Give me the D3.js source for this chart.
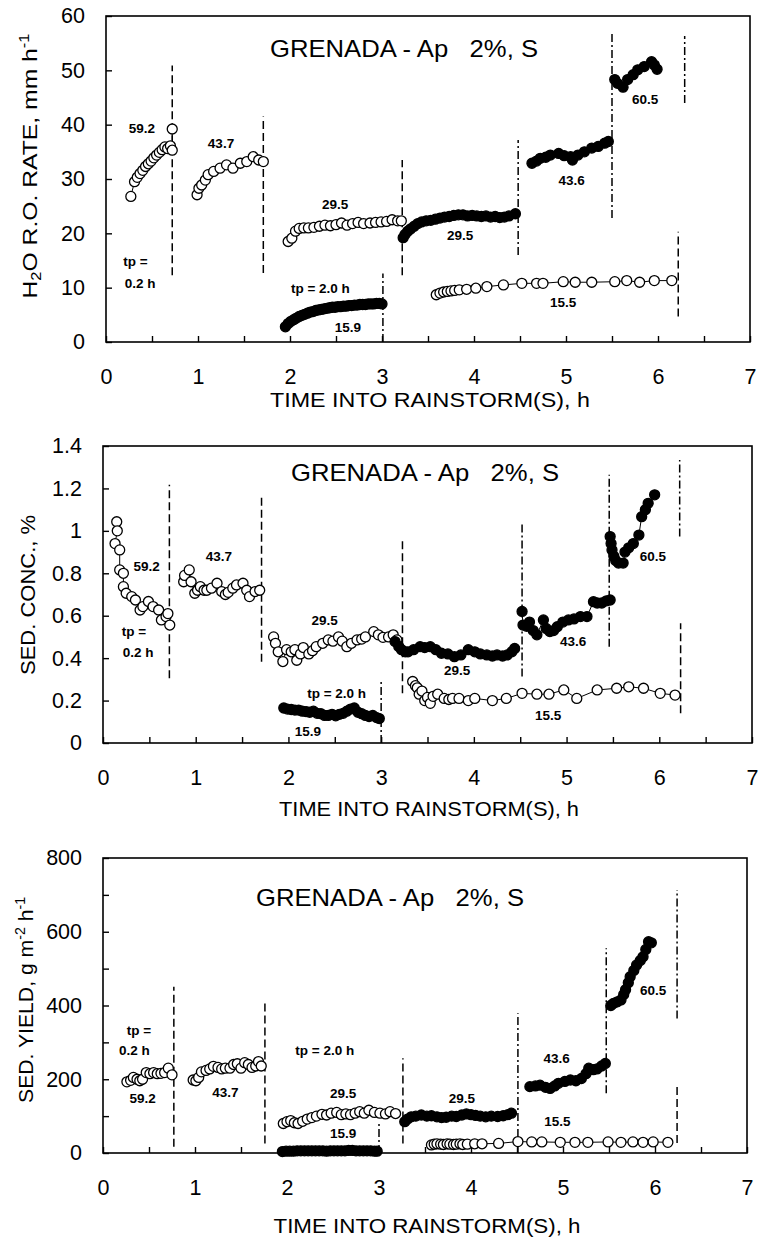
<!DOCTYPE html>
<html>
<head>
<meta charset="utf-8">
<script src="https://cdn.jsdelivr.net/npm/d3@7"></script>
<style>
  body { margin: 0; background: #fff; }
  svg { font-family: "Liberation Sans", Arial, sans-serif; }
</style>
</head>
<body>
<svg id="chart" width="759" height="1238"></svg>
<script>
// ---- axis ticks ----
const timeTicks = [0, 0.5, 1, 1.5, 2, 2.5, 3, 3.5, 4, 4.5, 5, 5.5, 6, 6.5, 7];
const rateTicks = [0, 10, 20, 30, 40, 50, 60];
const concTicks = [0, 0.2, 0.4, 0.6, 0.8, 1, 1.2, 1.4];
const yieldTicks = [0, 100, 200, 300, 400, 500, 600, 700, 800];

// ---- runoff rate (mm/h), [time h, value] ----
const rateA592 = [[0.27,26.8],[0.31,29.5],[0.34,30.3],[0.37,31.0],[0.40,31.6],[0.43,32.3],[0.46,32.8],[0.49,33.3],[0.52,33.9],[0.55,34.4],[0.58,34.9],[0.61,35.4],[0.64,35.9],[0.67,35.6],[0.70,36.1],[0.72,35.3],[0.72,39.2]];
const rateA437 = [[0.99,27.1],[1.01,28.3],[1.04,28.9],[1.08,29.8],[1.11,30.8],[1.17,31.4],[1.24,32.0],[1.31,32.6],[1.38,32.0],[1.46,32.9],[1.53,33.2],[1.60,34.1],[1.66,33.5],[1.71,33.2]];
const rateA295 = [[1.98,18.5],[2.02,19.1],[2.06,20.4],[2.10,20.9],[2.15,21.0],[2.20,21.0],[2.26,21.1],[2.32,21.3],[2.38,21.5],[2.44,21.4],[2.50,21.6],[2.56,21.9],[2.62,21.5],[2.68,21.8],[2.74,22.0],[2.80,21.8],[2.87,21.9],[2.93,22.0],[2.99,22.1],[3.05,22.2],[3.11,22.5],[3.17,22.3],[3.21,22.3]];
const rateA155 = [[3.59,8.7],[3.63,9.0],[3.67,9.2],[3.71,9.3],[3.75,9.4],[3.79,9.5],[3.84,9.6],[3.92,9.7],[4.02,9.9],[4.14,10.2],[4.32,10.5],[4.52,10.8],[4.68,10.8],[4.75,10.8],[4.97,11.1],[5.10,11.0],[5.28,11.0],[5.53,11.1],[5.66,11.3],[5.80,11.0],[5.96,11.3],[6.15,11.3]];
const rateB159 = [[1.95,2.8],[1.98,3.4],[2.01,3.8],[2.04,4.1],[2.07,4.4],[2.10,4.7],[2.13,4.9],[2.16,5.1],[2.19,5.3],[2.22,5.5],[2.25,5.6],[2.28,5.8],[2.31,5.9],[2.34,6.0],[2.37,6.1],[2.40,6.2],[2.43,6.3],[2.46,6.4],[2.49,6.4],[2.52,6.5],[2.55,6.5],[2.58,6.6],[2.61,6.6],[2.64,6.7],[2.67,6.7],[2.70,6.8],[2.73,6.8],[2.76,6.9],[2.79,6.9],[2.82,6.9],[2.85,7.0],[2.88,7.0],[2.91,7.0],[2.94,7.1],[2.97,7.1],[3.00,7.0]];
const rateB295 = [[3.23,19.2],[3.25,19.8],[3.28,20.4],[3.31,20.8],[3.35,21.3],[3.39,21.8],[3.43,22.1],[3.48,22.3],[3.53,22.4],[3.58,22.6],[3.63,22.8],[3.68,23.0],[3.73,23.1],[3.78,23.3],[3.83,23.4],[3.88,23.4],[3.93,23.2],[3.98,23.3],[4.03,23.2],[4.08,23.1],[4.13,23.2],[4.18,23.0],[4.23,23.1],[4.28,22.9],[4.33,23.0],[4.38,23.2],[4.45,23.6]];
const rateB436 = [[4.63,32.9],[4.68,33.3],[4.72,33.8],[4.78,34.0],[4.83,34.4],[4.92,34.7],[4.98,34.3],[5.05,34.1],[5.07,33.5],[5.13,34.4],[5.20,35.0],[5.28,35.7],[5.35,36.0],[5.42,36.6],[5.46,36.9]];
const rateB605 = [[5.53,48.3],[5.56,47.6],[5.62,46.9],[5.67,48.3],[5.73,49.2],[5.78,50.1],[5.85,50.7],[5.93,51.6],[5.96,51.0],[5.99,50.2]];

// ---- sediment concentration (%) ----
const concA592 = [[0.148,1.043],[0.154,1.0],[0.13,0.94],[0.18,0.91],[0.18,0.816],[0.22,0.80],[0.22,0.737],[0.25,0.706],[0.31,0.69],[0.35,0.674],[0.40,0.627],[0.43,0.643],[0.49,0.667],[0.54,0.643],[0.60,0.627],[0.63,0.58],[0.68,0.596],[0.70,0.61],[0.72,0.556]];
const concA437 = [[0.87,0.76],[0.88,0.79],[0.93,0.816],[0.95,0.76],[0.99,0.706],[1.02,0.72],[1.05,0.737],[1.09,0.72],[1.12,0.72],[1.17,0.73],[1.23,0.753],[1.28,0.714],[1.32,0.70],[1.35,0.71],[1.40,0.73],[1.44,0.745],[1.51,0.753],[1.55,0.72],[1.58,0.69],[1.64,0.714],[1.69,0.72]];
const concA295 = [[1.84,0.50],[1.86,0.47],[1.89,0.43],[1.94,0.384],[1.98,0.44],[2.03,0.43],[2.07,0.44],[2.09,0.39],[2.13,0.42],[2.16,0.45],[2.22,0.42],[2.26,0.435],[2.30,0.454],[2.37,0.47],[2.43,0.486],[2.48,0.48],[2.54,0.50],[2.58,0.48],[2.63,0.454],[2.68,0.47],[2.74,0.486],[2.79,0.49],[2.83,0.50],[2.92,0.525],[2.97,0.51],[3.02,0.498],[3.08,0.50],[3.13,0.51],[3.17,0.486]];
const concA155 = [[3.34,0.29],[3.37,0.27],[3.39,0.26],[3.41,0.23],[3.44,0.245],[3.47,0.20],[3.50,0.215],[3.53,0.187],[3.56,0.22],[3.61,0.23],[3.68,0.21],[3.73,0.205],[3.77,0.21],[3.84,0.21],[3.94,0.20],[4.01,0.21],[4.20,0.20],[4.35,0.21],[4.52,0.234],[4.68,0.23],[4.81,0.23],[4.97,0.25],[5.11,0.21],[5.33,0.25],[5.54,0.258],[5.67,0.265],[5.83,0.258],[6.01,0.234],[6.17,0.226]];
const concB159 = [[1.95,0.165],[1.99,0.160],[2.03,0.158],[2.07,0.155],[2.11,0.155],[2.15,0.150],[2.19,0.148],[2.23,0.145],[2.27,0.150],[2.31,0.140],[2.35,0.138],[2.39,0.130],[2.43,0.130],[2.47,0.135],[2.51,0.128],[2.55,0.135],[2.59,0.140],[2.63,0.150],[2.67,0.160],[2.71,0.165],[2.75,0.145],[2.79,0.138],[2.83,0.130],[2.87,0.125],[2.91,0.130],[2.95,0.120],[2.98,0.115]];
const concB295 = [[3.15,0.478],[3.19,0.455],[3.22,0.44],[3.26,0.43],[3.29,0.43],[3.35,0.44],[3.42,0.454],[3.47,0.45],[3.53,0.454],[3.59,0.44],[3.65,0.423],[3.72,0.42],[3.79,0.407],[3.86,0.415],[3.94,0.44],[4.01,0.43],[4.07,0.42],[4.14,0.415],[4.20,0.41],[4.25,0.415],[4.31,0.41],[4.36,0.415],[4.41,0.43],[4.44,0.446]];
const concB436 = [[4.52,0.62],[4.53,0.556],[4.57,0.55],[4.60,0.57],[4.64,0.53],[4.68,0.51],[4.75,0.58],[4.78,0.54],[4.82,0.525],[4.86,0.53],[4.90,0.548],[4.96,0.57],[5.02,0.58],[5.08,0.585],[5.15,0.596],[5.22,0.596],[5.29,0.666],[5.33,0.66],[5.38,0.66],[5.43,0.67],[5.47,0.674]];
const concB605 = [[5.47,0.973],[5.48,0.94],[5.49,0.91],[5.51,0.88],[5.53,0.86],[5.56,0.848],[5.61,0.848],[5.63,0.90],[5.67,0.92],[5.72,0.94],[5.78,0.98],[5.81,1.067],[5.85,1.10],[5.88,1.13],[5.95,1.17]];

// ---- sediment yield (g m-2 h-1) ----
const yieldA592 = [[0.26,193],[0.30,197],[0.33,205],[0.37,200],[0.40,196],[0.43,200],[0.47,218],[0.51,215],[0.55,218],[0.59,215],[0.63,216],[0.67,218],[0.71,230],[0.75,212]];
const yieldA437 = [[0.98,198],[1.01,196],[1.04,205],[1.07,220],[1.12,224],[1.16,228],[1.20,235],[1.25,232],[1.29,228],[1.33,230],[1.38,230],[1.42,240],[1.46,242],[1.50,230],[1.54,245],[1.58,240],[1.62,232],[1.66,236],[1.69,248],[1.72,236]];
const yieldA295 = [[1.96,80],[2.00,85],[2.04,88],[2.08,82],[2.12,80],[2.17,86],[2.22,92],[2.27,96],[2.32,100],[2.38,105],[2.43,103],[2.48,108],[2.54,110],[2.59,104],[2.64,106],[2.69,104],[2.74,108],[2.79,112],[2.84,108],[2.89,116],[2.95,110],[3.01,108],[3.07,106],[3.12,112],[3.18,107]];
const yieldA155 = [[3.57,22],[3.60,24],[3.63,25],[3.67,24],[3.70,23],[3.74,25],[3.77,24],[3.81,23],[3.84,24],[3.88,25],[3.91,23],[3.96,24],[4.04,25],[4.12,25],[4.30,26],[4.51,31],[4.66,30],[4.77,30],[4.97,29],[5.13,29],[5.27,29],[5.49,30],[5.63,29],[5.76,30],[5.87,29],[5.98,30],[6.14,29]];
const yieldB159 = [[1.95,4],[1.99,5],[2.03,5],[2.07,5],[2.11,6],[2.15,6],[2.19,6],[2.23,6],[2.27,6],[2.31,6],[2.35,6],[2.39,6],[2.43,5],[2.47,6],[2.51,6],[2.55,6],[2.59,6],[2.63,6],[2.67,7],[2.71,7],[2.75,6],[2.79,6],[2.83,6],[2.87,6],[2.91,6],[2.95,5],[2.98,5]];
const yieldB295 = [[3.28,85],[3.31,92],[3.35,98],[3.40,100],[3.46,103],[3.52,100],[3.57,101],[3.63,98],[3.68,96],[3.73,97],[3.79,100],[3.84,99],[3.90,103],[3.95,106],[4.00,104],[4.05,102],[4.10,100],[4.16,98],[4.22,100],[4.29,99],[4.35,101],[4.40,104],[4.44,108]];
const yieldB436 = [[4.64,180],[4.70,182],[4.75,184],[4.81,178],[4.86,175],[4.91,182],[4.95,189],[5.02,194],[5.08,198],[5.14,196],[5.20,202],[5.25,215],[5.28,230],[5.33,226],[5.37,228],[5.42,236],[5.46,243]];
const yieldB605 = [[5.52,400],[5.55,406],[5.59,410],[5.63,415],[5.66,430],[5.68,443],[5.71,462],[5.73,478],[5.77,495],[5.80,510],[5.84,522],[5.87,532],[5.90,552],[5.93,573],[5.96,570]];

// ---- storm boundary lines: [time, from, to, plot A=dashed / B=dash-dot] ----
const rateBreaks = [[0.72,12.3,50.9,"A"],[1.71,12.7,41.5,"A"],[3.01,0,12.6,"B"],[3.22,12.3,33.5,"A"],[4.48,16,37.2,"B"],[5.50,22.8,56.9,"B"],[6.29,44,56.3,"B"],[6.22,4.7,20.3,"A"]];
const concBreaks = [[0.716,0.305,1.217,"A"],[1.71,0.383,1.16,"A"],[3.0,0,0.29,"B"],[3.23,0.234,0.957,"A"],[4.52,0.313,1.043,"B"],[5.46,0.454,1.264,"B"],[6.22,0.973,1.334,"B"],[6.23,0.14,0.564,"A"]];
const yieldBreaks = [[0.77,17,451,"A"],[1.76,26,410,"A"],[3.0,0,80,"B"],[3.26,26,257,"A"],[4.51,0,379,"B"],[5.47,162,555,"B"],[6.24,365,713,"B"],[6.24,27,180,"A"]];

// ---- in-plot notes: [text, time, value] ----
const rateNotes = [["59.2",0.39,39.4],["43.7",1.25,36.6],["29.5",2.49,25.4],["tp =",0.32,14.8],["0.2 h",0.37,10.9],["tp = 2.0 h",2.33,9.9],["15.9",2.63,2.7],["29.5",3.85,19.7],["43.6",5.06,29.8],["60.5",5.86,44.6],["15.5",4.97,7.4]];
const concNotes = [["59.2",0.47,0.831],["43.7",1.25,0.878],["tp =",0.335,0.525],["0.2 h",0.38,0.43],["29.5",2.39,0.58],["tp = 2.0 h",2.52,0.234],["15.9",2.21,0.053],["29.5",3.82,0.344],["43.6",5.07,0.478],["60.5",5.93,0.878],["15.5",4.80,0.132]];
const yieldNotes = [["tp =",0.39,334],["0.2 h",0.34,279],["59.2",0.43,148],["43.7",1.33,166],["tp = 2.0 h",2.41,279],["29.5",2.61,162],["15.9",2.61,53],["29.5",3.90,148],["43.6",4.93,257],["60.5",5.98,442],["15.5",4.94,85]];

const title = "GRENADA - Ap   2%, S";
const xTitle = "TIME INTO RAINSTORM(S), h";

var svg = d3.select("#chart");

function drawPanel(p) {
    var x = d3.scaleLinear().domain([0, 7]).range([p.left, p.right]);
    var y = d3.scaleLinear().domain([0, p.ymax]).range([p.bottom, p.top]);
    var g = svg.append("g");

    g.append("rect")
        .attr("x", p.left).attr("y", p.top)
        .attr("width", p.right - p.left).attr("height", p.bottom - p.top)
        .attr("fill", "none").attr("stroke", "#000").attr("stroke-width", 1.6);

    var xa = g.append("g")
        .attr("transform", "translate(0," + p.bottom + ")")
        .call(d3.axisBottom(x).tickValues(timeTicks).tickSizeInner(-6).tickSizeOuter(0).tickPadding(27)
            .tickFormat(d => Number.isInteger(d) ? d : ""));
    var ya = g.append("g")
        .attr("transform", "translate(" + p.left + ",0)")
        .call(d3.axisLeft(y).tickValues(p.ticks).tickSizeInner(-6).tickSizeOuter(0).tickPadding(21)
            .tickFormat(p.fmt));
    [xa, ya].forEach(function(a) {
        a.select(".domain").remove();
        a.selectAll("line").attr("stroke", "#000").attr("stroke-width", 1.4);
        a.selectAll("text").attr("fill", "#000").style("font-size", "21.5px").style("font-family", "Liberation Sans, Arial, sans-serif");
    });

    // storm boundaries
    g.selectAll(".brk").data(p.breaks).enter().append("line")
        .attr("x1", d => x(d[0])).attr("x2", d => x(d[0]))
        .attr("y1", d => y(d[1])).attr("y2", d => y(d[2]))
        .attr("stroke", "#000").attr("stroke-width", 1.5)
        .attr("stroke-dasharray", d => d[3] == "A" ? "8,4" : "8,3,2,3");

    var line = d3.line().x(d => x(d[0])).y(d => y(d[1]));
    p.series.forEach(function(s) {
        g.append("path").datum(s.data)
            .attr("d", line).attr("fill", "none")
            .attr("stroke", "#000").attr("stroke-width", 1);
        g.selectAll(null).data(s.data).enter().append("circle")
            .attr("cx", d => x(d[0])).attr("cy", d => y(d[1]))
            .attr("r", 5)
            .attr("fill", s.filled ? "#000" : "#fff")
            .attr("stroke", "#000").attr("stroke-width", 1.3);
    });

    g.selectAll(".note").data(p.notes).enter().append("text")
        .attr("x", d => x(d[1])).attr("y", d => y(d[2]))
        .attr("dy", "0.35em").attr("text-anchor", "middle")
        .style("font-size", "13.5px").style("font-weight", "bold")
        .text(d => d[0]);

    g.append("text")
        .attr("x", p.titleX).attr("y", p.titleY).attr("dy", "0.35em")
        .attr("text-anchor", "middle").style("font-size", "24px")
        .style("white-space", "pre")
        .attr("textLength", 268).attr("lengthAdjust", "spacingAndGlyphs")
        .text(title);

    g.append("text")
        .attr("x", p.xTitleX).attr("y", p.xTitleY).attr("dy", "0.35em")
        .attr("text-anchor", "middle").style("font-size", "21px")
        .attr("textLength", p.xTitleLen).attr("lengthAdjust", "spacingAndGlyphs")
        .text(xTitle);

    var yt = g.append("text")
        .attr("transform", "translate(" + p.yTitleX + "," + p.yTitleY + ") rotate(-90)")
        .attr("text-anchor", "middle").attr("dy", "0.35em")
        .style("font-size", "21px")
        .attr("textLength", p.yTitleLen).attr("lengthAdjust", "spacingAndGlyphs");
    p.yTitle.forEach(function(part) {
        var t = yt.append("tspan").text(part[0]);
        if (part[1] == "sub") t.style("font-size", "14px").attr("baseline-shift", "-25%");
        if (part[1] == "sup") t.style("font-size", "14px").attr("baseline-shift", "60%");
    });
}

drawPanel({
    left: 106, right: 750, top: 16, bottom: 342, ymax: 60,
    ticks: rateTicks, fmt: d => d,
    breaks: rateBreaks, notes: rateNotes,
    series: [
        {data: rateA592}, {data: rateA437}, {data: rateA295}, {data: rateA155},
        {data: rateB159, filled: true}, {data: rateB295, filled: true},
        {data: rateB436, filled: true}, {data: rateB605, filled: true}
    ],
    titleX: 404, titleY: 49, xTitleX: 430, xTitleY: 400, xTitleLen: 320,
    yTitleX: 30, yTitleY: 166, yTitleLen: 265,
    yTitle: [["H"], ["2", "sub"], ["O R.O. RATE, mm h"], ["-1", "sup"]]
});

drawPanel({
    left: 103, right: 752, top: 446, bottom: 743, ymax: 1.4,
    ticks: concTicks, fmt: d => String(+d.toFixed(1)),
    breaks: concBreaks, notes: concNotes,
    series: [
        {data: concA592}, {data: concA437}, {data: concA295}, {data: concA155},
        {data: concB159, filled: true}, {data: concB295, filled: true},
        {data: concB436, filled: true}, {data: concB605, filled: true}
    ],
    titleX: 425, titleY: 473, xTitleX: 429, xTitleY: 809, xTitleLen: 300,
    yTitleX: 28, yTitleY: 595, yTitleLen: 160,
    yTitle: [["SED. CONC., %"]]
});

drawPanel({
    left: 103, right: 747, top: 858, bottom: 1153, ymax: 800,
    ticks: yieldTicks, fmt: d => d % 200 == 0 ? d : "",
    breaks: yieldBreaks, notes: yieldNotes,
    series: [
        {data: yieldA592}, {data: yieldA437}, {data: yieldA295}, {data: yieldA155},
        {data: yieldB159, filled: true}, {data: yieldB295, filled: true},
        {data: yieldB436, filled: true}, {data: yieldB605, filled: true}
    ],
    titleX: 390, titleY: 898, xTitleX: 427, xTitleY: 1226, xTitleLen: 307,
    yTitleX: 26, yTitleY: 1000, yTitleLen: 206,
    yTitle: [["SED. YIELD, g m"], ["-2", "sup"], [" h"], ["-1", "sup"]]
});
</script>
</body>
</html>
